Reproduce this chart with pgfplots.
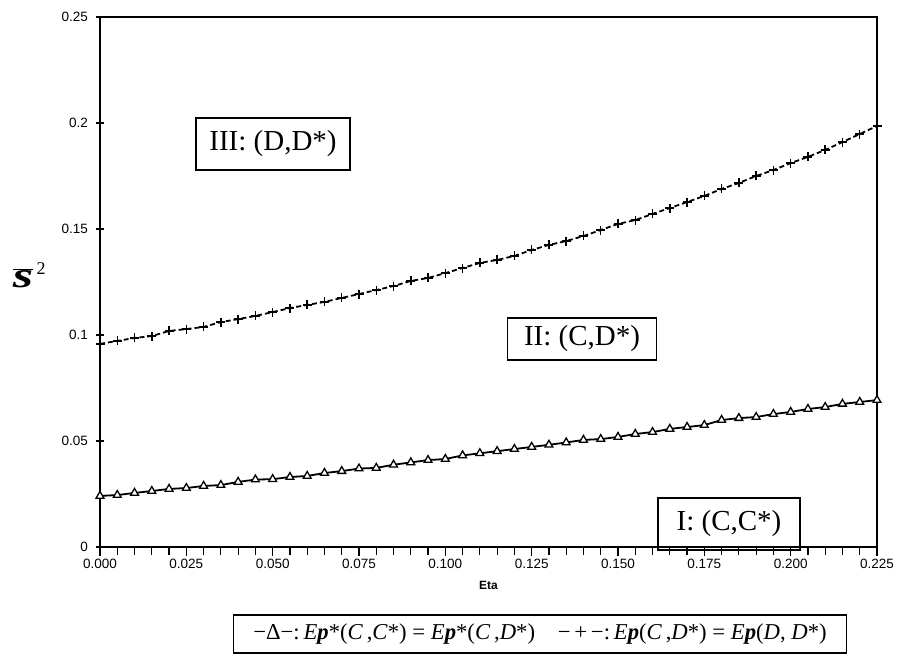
\documentclass[border=0pt]{standalone}
\usepackage{fontspec}
\setmainfont{Liberation Serif}
\setsansfont{Liberation Sans}
\usepackage{pgfplots}
\pgfplotsset{compat=1.18}
\pgfplotstableread{
x y
0.000 0.0241
0.005 0.0245
0.010 0.0255
0.015 0.0264
0.020 0.0274
0.025 0.0278
0.030 0.0288
0.035 0.0292
0.040 0.0307
0.045 0.0318
0.050 0.0320
0.055 0.0330
0.060 0.0335
0.065 0.0349
0.070 0.0358
0.075 0.0370
0.080 0.0373
0.085 0.0388
0.090 0.0399
0.095 0.0410
0.100 0.0415
0.105 0.0432
0.110 0.0442
0.115 0.0452
0.120 0.0462
0.125 0.0472
0.130 0.0482
0.135 0.0493
0.140 0.0505
0.145 0.0509
0.150 0.0519
0.155 0.0533
0.160 0.0542
0.165 0.0557
0.170 0.0566
0.175 0.0575
0.180 0.0599
0.185 0.0608
0.190 0.0613
0.195 0.0627
0.200 0.0637
0.205 0.0651
0.210 0.0660
0.215 0.0675
0.220 0.0684
0.225 0.0693
}\lowerdata
\pgfplotstableread{
x y
0.000 0.0958
0.005 0.0972
0.010 0.0986
0.015 0.0995
0.020 0.1019
0.025 0.1028
0.030 0.1038
0.035 0.1061
0.040 0.1075
0.045 0.1090
0.050 0.1108
0.055 0.1127
0.060 0.1142
0.065 0.1156
0.070 0.1175
0.075 0.1193
0.080 0.1212
0.085 0.1231
0.090 0.1255
0.095 0.1269
0.100 0.1292
0.105 0.1316
0.110 0.1340
0.115 0.1354
0.120 0.1373
0.125 0.1401
0.130 0.1425
0.135 0.1443
0.140 0.1467
0.145 0.1495
0.150 0.1524
0.155 0.1542
0.160 0.1571
0.165 0.1599
0.170 0.1627
0.175 0.1656
0.180 0.1689
0.185 0.1717
0.190 0.1750
0.195 0.1778
0.200 0.1811
0.205 0.1840
0.210 0.1873
0.215 0.1910
0.220 0.1948
0.225 0.1986
}\upperdata
\begin{document}
\begin{tikzpicture}[x=1pt,y=1pt]
\useasboundingbox (0,0) rectangle (898,659);
\begin{axis}[
  at={(100pt,112pt)}, anchor=south west,
  scale only axis, width=777pt, height=530pt,
  xmin=0, xmax=0.225, ymin=0, ymax=0.25,
  xtick={0,0.025,0.05,0.075,0.1,0.125,0.15,0.175,0.2,0.225},
  minor x tick num=4,
  ytick={0,0.05,0.1,0.15,0.2,0.25},
  xtick pos=left, ytick pos=left,
  xtick align=outside, ytick align=center,
  major tick length=9pt, minor tick length=8pt,
  tick style={black, line width=1.2pt},
  axis line style={line width=1.5pt},
  /pgf/number format/assume math mode=true,
  xticklabel style={/pgf/number format/.cd, fixed, fixed zerofill, precision=3},
  yticklabel style={/pgf/number format/.cd, fixed, precision=2, /tikz/.cd, xshift=-4pt},
  ticklabel style={font=\sffamily\fontsize{13.5}{15}\selectfont},
  xlabel={\textbf{Eta}},
  xlabel style={font=\sffamily\fontsize{12}{14}\selectfont, at={(axis description cs:0.5,-0.072)}, anchor=center},
]
\addplot[black, line width=1.8pt, mark=triangle*, mark size=4.5pt,
  mark options={solid, fill=white, draw=black, line width=1.3pt}] table {\lowerdata};
\addplot[black, line width=1.8pt, dash pattern=on 5pt off 3pt, mark=+, mark size=4.5pt,
  mark options={solid, line width=1.5pt}] table {\upperdata};
\end{axis}
\node[draw, line width=1.2pt, minimum width=154pt, minimum height=52pt, font=\fontsize{29}{33}\selectfont] at (273,515) {III: (D,D*)};
\node[draw, line width=1.2pt, minimum width=149pt, minimum height=42pt, font=\fontsize{29}{33}\selectfont] at (582,320) {II: (C,D*)};
\node[draw, line width=1.2pt, minimum width=142pt, minimum height=52pt, font=\fontsize{29}{33}\selectfont] at (729,135) {I: (C,C*)};
\node[font=\fontsize{36}{40}\selectfont\bfseries\itshape, xscale=1.45, transform shape, inner sep=0pt] at (23,381) {$\overline{\mbox{s}}$};
\node[font=\fontsize{18}{20}\selectfont, inner sep=0pt] at (41,390) {2};
\node[draw, line width=1.2pt, minimum width=613pt, minimum height=38pt, font=\fontsize{22.7}{26}\selectfont] at (540,25)
 {−Δ−:\,\textit{E}\textbf{\textit{p}}*(\textit{C}\,,\textit{C}*) = \textit{E}\textbf{\textit{p}}*(\textit{C}\,,\textit{D}*)\quad −\,+\,−:\,\textit{E}\textbf{\textit{p}}(\textit{C}\,,\textit{D}*) = \textit{E}\textbf{\textit{p}}(\textit{D}, \textit{D}*)};
\end{tikzpicture}
\end{document}
